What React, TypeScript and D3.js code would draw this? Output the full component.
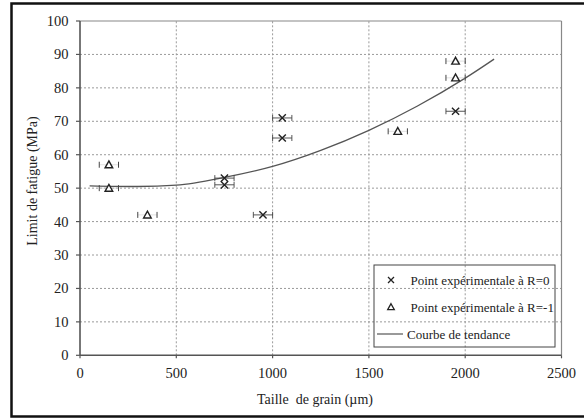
import React from "react";
import * as d3 from "d3";

const xTicks = [0, 500, 1000, 1500, 2000, 2500];
const yTicks = [0, 10, 20, 30, 40, 50, 60, 70, 80, 90, 100];

const r0X = [750, 750, 950, 1050, 1050, 1950];
const r0Y = [53, 51, 42, 71, 65, 73];

const rm1X = [150, 150, 350, 1650, 1950, 1950];
const rm1Y = [57, 50, 42, 67, 88, 83];

const errHalf = [50];

const trendX = [50, 300, 500, 750, 1000, 1250, 1500, 1750, 2000, 2150];
const trendY = [50.7, 50.5, 50.9, 53.2, 56.5, 61.3, 67.3, 74.5, 82.9, 88.6];

const legendLabels = [
  "Point expérimentale à R=0",
  "Point expérimentale à R=-1",
  "Courbe de tendance",
];

export default function App() {
  const W = 584;
  const H = 419;
  const x = d3.scaleLinear().domain([0, 2500]).range([80, 561.5]);
  const y = d3.scaleLinear().domain([0, 100]).range([355.3, 21]);
  const font = "Times New Roman, serif";
  const ink = "#222";
  const eh = errHalf[0];

  const trendPts: [number, number][] = trendX.map((v, i) => [x(v), y(trendY[i])]);
  const line = d3.line().curve(d3.curveMonotoneX)(trendPts) || "";

  const xMark = (cx: number, cy: number, s = 3.6) =>
    `M${cx - s},${cy - s}L${cx + s},${cy + s}M${cx - s},${cy + s}L${cx + s},${cy - s}`;
  const triMark = (cx: number, cy: number, s = 3.8) =>
    `M${cx},${cy - s}L${cx + s},${cy + s * 0.8}L${cx - s},${cy + s * 0.8}Z`;

  const txt = { fontFamily: font, fill: ink } as const;

  return (
    <svg width={W} height={H} style={{ position: "absolute", left: 0, top: 0, background: "#fff" }}>
      {/* outer frame */}
      <rect x={11.5} y={3.5} width={620} height={413} fill="none" stroke="#111" strokeWidth={2.5} />

      {/* grid */}
      {yTicks.filter((t) => t > 0 && t < 100).map((t) => (
        <line key={"gy" + t} x1={x(0)} x2={x(2500)} y1={y(t)} y2={y(t)} stroke="#9a9a9a" strokeWidth={1} strokeDasharray="2,2" />
      ))}
      {xTicks.filter((t) => t > 0 && t < 2500).map((t) => (
        <line key={"gx" + t} x1={x(t)} x2={x(t)} y1={y(0)} y2={y(100)} stroke="#9a9a9a" strokeWidth={1} strokeDasharray="2,2" />
      ))}

      {/* plot frame top/right */}
      <line x1={x(0)} x2={x(2500)} y1={y(100)} y2={y(100)} stroke="#888" strokeWidth={1.2} />
      <line x1={x(2500)} x2={x(2500)} y1={y(100)} y2={y(0)} stroke="#888" strokeWidth={1.2} />
      {/* axes */}
      <line x1={x(0)} x2={x(0)} y1={y(100)} y2={y(0)} stroke="#555" strokeWidth={1.6} />
      <line x1={x(0)} x2={x(2500)} y1={y(0)} y2={y(0)} stroke="#555" strokeWidth={1.6} />

      {/* ticks + labels */}
      {yTicks.map((t) => (
        <g key={"ty" + t}>
          <line x1={x(0) - 4} x2={x(0)} y1={y(t)} y2={y(t)} stroke="#555" strokeWidth={1.2} />
          <text x={68.5} y={y(t) + 5} textAnchor="end" style={{ ...txt, fontSize: 14.5 }}>
            {t}
          </text>
        </g>
      ))}
      {xTicks.map((t) => (
        <g key={"tx" + t}>
          <line x1={x(t)} x2={x(t)} y1={y(0)} y2={y(0) + 3} stroke="#555" strokeWidth={1.2} />
          <text x={x(t)} y={378} textAnchor="middle" style={{ ...txt, fontSize: 14.5 }}>
            {t}
          </text>
        </g>
      ))}

      {/* axis titles */}
      <text x={315} y={404} textAnchor="middle" style={{ ...txt, fontSize: 14, whiteSpace: "pre" }}>
        {"Taille  de grain (µm)"}
      </text>
      <text transform={`translate(37,181) rotate(-90)`} textAnchor="middle" style={{ ...txt, fontSize: 14 }}>
        Limit de fatigue (MPa)
      </text>

      {/* trend curve */}
      <path d={line} fill="none" stroke="#555" strokeWidth={1.3} />

      {/* R=0 points with error bars */}
      {r0X.map((v, i) => {
        const cx = x(v);
        const cy = y(r0Y[i]);
        const x1 = x(v - eh);
        const x2 = x(v + eh);
        return (
          <g key={"r0" + i}>
            <line x1={x1} x2={x2} y1={cy} y2={cy} stroke="#444" strokeWidth={0.9} />
            <line x1={x1} x2={x1} y1={cy - 3} y2={cy + 3} stroke="#444" strokeWidth={0.9} />
            <line x1={x2} x2={x2} y1={cy - 3} y2={cy + 3} stroke="#444" strokeWidth={0.9} />
            <path d={xMark(cx, cy)} stroke={ink} strokeWidth={1.4} fill="none" />
          </g>
        );
      })}

      {/* R=-1 points with error bars */}
      {rm1X.map((v, i) => {
        const cx = x(v);
        const cy = y(rm1Y[i]);
        const x1 = x(v - eh);
        const x2 = x(v + eh);
        return (
          <g key={"rm1" + i}>
            <line x1={x1} x2={x2} y1={cy} y2={cy} stroke="#ccc" strokeWidth={0.6} />
            <line x1={x1} x2={x1} y1={cy - 3} y2={cy + 3} stroke="#444" strokeWidth={1} />
            <line x1={x2} x2={x2} y1={cy - 3} y2={cy + 3} stroke="#444" strokeWidth={1} />
            <path d={triMark(cx, cy)} stroke={ink} strokeWidth={1.4} fill="#fff" />
          </g>
        );
      })}

      {/* legend */}
      <rect x={374} y={265} width={181} height={82} fill="none" stroke="#444" strokeWidth={1} />
      <path d={xMark(391, 280, 3)} stroke={ink} strokeWidth={1.3} fill="none" />
      <path d={triMark(391, 307, 3.3)} stroke={ink} strokeWidth={1.3} fill="none" />
      <line x1={377} x2={403} y1={334} y2={334} stroke="#555" strokeWidth={1.2} />
      <text x={410.5} y={284.5} style={{ ...txt, fontSize: 13 }}>{legendLabels[0]}</text>
      <text x={410.5} y={311.5} style={{ ...txt, fontSize: 13 }}>{legendLabels[1]}</text>
      <text x={407} y={338.5} style={{ ...txt, fontSize: 13 }}>{legendLabels[2]}</text>
    </svg>
  );
}
